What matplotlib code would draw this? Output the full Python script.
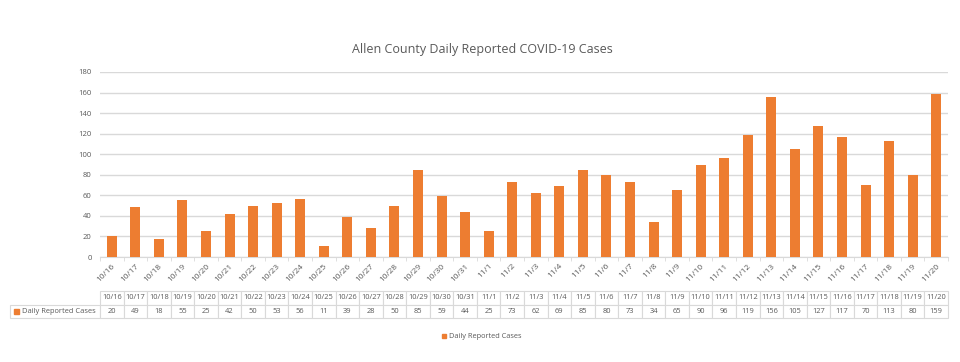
import matplotlib.pyplot as plt
from matplotlib.patches import Patch, Rectangle
import numpy as np

plt.rcParams['font.family'] = ['Open Sans', 'DejaVu Sans']

# data
dates = ['10/16', '10/17', '10/18', '10/19', '10/20', '10/21', '10/22', '10/23', '10/24',
         '10/25', '10/26', '10/27', '10/28', '10/29', '10/30', '10/31', '11/1', '11/2',
         '11/3', '11/4', '11/5', '11/6', '11/7', '11/8', '11/9', '11/10', '11/11', '11/12',
         '11/13', '11/14', '11/15', '11/16', '11/17', '11/18', '11/19', '11/20']
cases = [20, 49, 18, 55, 25, 42, 50, 53, 56, 11, 39, 28, 50, 85, 59, 44, 25, 73,
         62, 69, 85, 80, 73, 34, 65, 90, 96, 119, 156, 105, 127, 117, 70, 113, 80, 159]
series_name = 'Daily Reported Cases'
title = 'Allen County Daily Reported COVID-19 Cases'

orange = '#ED7D31'
grid_c = '#D9D9D9'
text_c = '#595959'

fig = plt.figure(figsize=(9.6, 3.62), dpi=100)
ax = fig.add_axes([100 / 960, 1 - 257 / 362, 848 / 960, 185 / 362])

x = np.arange(len(dates))
ax.bar(x, cases, width=0.42, color=orange, zorder=3)

ax.set_xlim(-0.5, len(dates) - 0.5)
ax.set_ylim(0, 180)
ax.set_yticks(range(0, 181, 20))
ax.yaxis.grid(True, color=grid_c, linewidth=1, zorder=0)
ax.tick_params(axis='y', length=0, labelsize=5.5, labelcolor=text_c, pad=6)

ax.set_xticks(x)
ax.set_xticklabels(dates, rotation=45, ha='right', rotation_mode='anchor',
                   fontsize=6, color=text_c)
ax.tick_params(axis='x', which='major', length=0, pad=4)
ax.set_xticks(np.arange(-0.5, len(dates), 1), minor=True)
ax.tick_params(axis='x', which='minor', length=3, color=grid_c)

for s in ['top', 'right', 'left']:
    ax.spines[s].set_visible(False)
ax.spines['bottom'].set_color(grid_c)

fig.text(0.502, 1 - 50 / 362, title, ha='center', va='center', fontsize=9, color=text_c)

# data table under the chart
label_w = 90 / 848
col_w = 1 / len(dates)
cell_text = [[''] + dates, [series_name] + [str(v) for v in cases]]
tbl = ax.table(cellText=cell_text,
               colWidths=[label_w] + [col_w] * len(dates),
               bbox=[-label_w, (257 - 318) / 185, 1 + label_w, 27 / 185],
               cellLoc='center')
tbl.auto_set_font_size(False)
for (r, c), cell in tbl.get_celld().items():
    cell.set_edgecolor(grid_c)
    cell.set_linewidth(0.8)
    cell.get_text().set_fontsize(5.4)
    cell.get_text().set_color(text_c)
    if r == 0 and c == 0:
        cell.visible_edges = ''
    if r == 1 and c == 0:
        cell.get_text().set_ha('left')
        cell.PAD = 0.135

fig.patches.append(Rectangle((14 / 960, 1 - 314 / 362), 5 / 960, 5 / 362,
                             transform=fig.transFigure, color=orange))

fig.legend(handles=[Patch(color=orange, label=series_name)], loc='center',
           bbox_to_anchor=(0.502, 1 - 337 / 362), frameon=False, fontsize=5.3,
           labelcolor=text_c, handlelength=0.6, handleheight=0.6, handletextpad=0.4)

fig.savefig('out.png', dpi=100)
